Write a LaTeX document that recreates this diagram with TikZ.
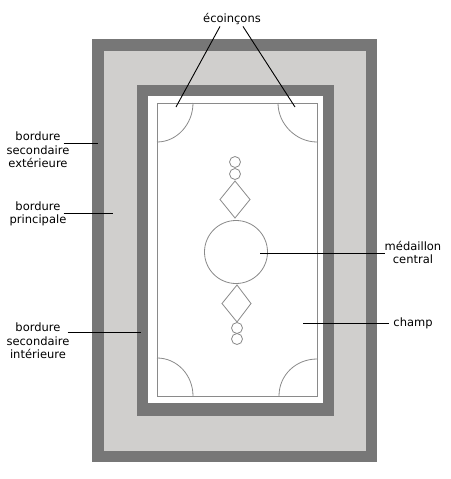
\documentclass[tikz,border=0pt]{standalone}
\usepackage{fontspec}
\setmainfont{DejaVu Sans}
\usepackage{xcolor}
\definecolor{bandgrey}{HTML}{777777}
\definecolor{bordergrey}{HTML}{D0CFCD}
\definecolor{ornament}{HTML}{8A8A8A}

\begin{document}
\begin{tikzpicture}[x=1pt,y=-1pt,
    lbl/.style={font=\fontsize{11.5}{13.5}\selectfont,align=center,inner sep=0pt,anchor=base},
    lead/.style={draw=black,line width=0.9pt},
    orn/.style={draw=ornament,line width=0.8pt},
    boss/.style={orn,circle,inner sep=0pt,minimum size=11pt}]
    \useasboundingbox (0,0) rectangle (450,479);
    \fill[bandgrey] (92,39) rectangle (377,462);
    \fill[bordergrey] (104,51) rectangle (366,451);
    \fill[bandgrey] (137,85) rectangle (334,416);
    \fill[white] (148,96) rectangle (323,403);
    \draw[orn] (157,103) rectangle (317,396);
    \draw[orn] (193,103) .. controls (193,124) and (177,142) .. (157,142);
    \draw[orn] (278,103) .. controls (278,124) and (296,142) .. (317,142);
    \draw[orn] (157,358) .. controls (177,358) and (193,375) .. (193,396);
    \draw[orn] (317,359) .. controls (296,359) and (279,375) .. (279,396);
    \node[orn,circle,inner sep=0pt,minimum size=63pt] (medaillon) at (236,252) {};
    \node[boss] (bossA) at (235,162) {};
    \node[boss] (bossB) at (235,174) {};
    \draw[orn] (235,181) -- (250,199.5) -- (235,218) -- (220,199.5) -- cycle;
    \draw[orn] (237,285) -- (251,303.5) -- (237,322) -- (222,303.5) -- cycle;
    \node[boss] (bossC) at (237,328) {};
    \node[boss] (bossD) at (237,339) {};
    \coordinate (spandrelL) at (176,107);
    \coordinate (spandrelR) at (295,107);
    \coordinate (extband) at (98,143);
    \coordinate (mainband) at (113,213);
    \coordinate (intband) at (141,332);
    \coordinate (medpt) at (260,253);
    \coordinate (fieldpt) at (303,323);
    \node[lbl] (ecoincons) at (232,23) {écoinçons};
    \node[lbl] (secext) at (38,167.5) {bordure\\secondaire\\extérieure};
    \node[lbl] (princ) at (38,223.5) {bordure\\principale};
    \node[lbl] (secint) at (38,358.5) {bordure\\secondaire\\intérieure};
    \node[lbl] (medtxt) at (413,263.5) {médaillon\\central};
    \node[lbl] (champtxt) at (413,326.5) {champ};
    \draw[lead] ([xshift=-12pt,yshift=-1pt]ecoincons.south) -- (spandrelL);
    \draw[lead] ([xshift=11pt,yshift=-1pt]ecoincons.south) -- (spandrelR);
    \draw[lead] ([xshift=-6pt]secext.east |- extband) -- (extband);
    \draw[lead] ([xshift=-3pt]princ.east |- mainband) -- (mainband);
    \draw[lead] ([xshift=-2pt]secint.east |- intband) -- (intband);
    \draw[lead] (medpt) -- (medtxt.west |- medpt);
    \draw[lead] (fieldpt) -- ([xshift=-4pt]champtxt.west |- fieldpt);
\end{tikzpicture}
\end{document}
